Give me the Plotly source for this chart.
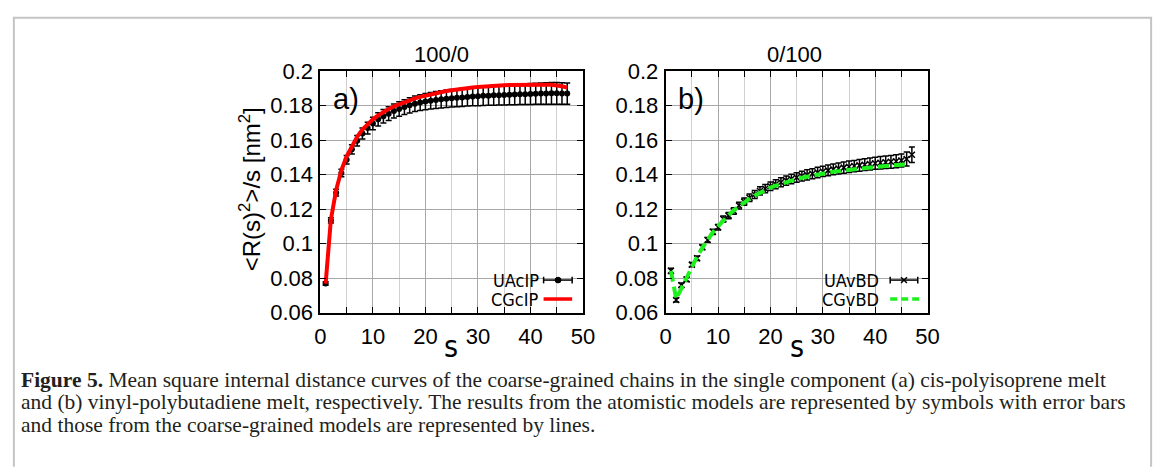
import plotly.graph_objects as go

W, H = 1170, 474

# ---------------- data ----------------
s_ua = list(range(1, 48))
ua_cip = [0.0768, 0.1134, 0.1295, 0.1409, 0.1486, 0.1546, 0.1596, 0.1638, 0.1669, 0.1696,
          0.1720, 0.1738, 0.1753, 0.1768, 0.1780, 0.1791, 0.1801, 0.1810, 0.1817, 0.1823,
          0.1828, 0.1832, 0.1836, 0.1839, 0.1842, 0.1845, 0.1847, 0.1850, 0.1852, 0.1854,
          0.1856, 0.1857, 0.1859, 0.1860, 0.1861, 0.1863, 0.1864, 0.1865, 0.1866, 0.1867,
          0.1868, 0.1869, 0.1870, 0.1871, 0.1871, 0.1870, 0.1869]
ua_cip_err = [0.0010, 0.0015, 0.0020, 0.0022, 0.0025, 0.0027, 0.0030, 0.0032, 0.0034, 0.0036,
              0.0038, 0.0039, 0.0040, 0.0041, 0.0042, 0.0043, 0.0044, 0.0045, 0.0046, 0.0047,
              0.0048, 0.0049, 0.0050, 0.0051, 0.0051, 0.0052, 0.0053, 0.0053, 0.0054, 0.0055,
              0.0056, 0.0056, 0.0057, 0.0057, 0.0058, 0.0058, 0.0059, 0.0059, 0.0060, 0.0061,
              0.0061, 0.0062, 0.0062, 0.0063, 0.0063, 0.0062, 0.0061]
s_cg_cip = list(range(1, 48))
cg_cip = [0.0768, 0.1140, 0.1310, 0.1425, 0.1505, 0.1568, 0.1618, 0.1660, 0.1693, 0.1720,
          0.1743, 0.1763, 0.1780, 0.1795, 0.1808, 0.1820, 0.1831, 0.1841, 0.1850, 0.1858,
          0.1865, 0.1872, 0.1878, 0.1884, 0.1889, 0.1894, 0.1898, 0.1902, 0.1905, 0.1908,
          0.1911, 0.1913, 0.1915, 0.1917, 0.1918, 0.1919, 0.1920, 0.1921, 0.1922, 0.1922,
          0.1922, 0.1922, 0.1921, 0.1920, 0.1917, 0.1912, 0.1904]

ua_vbd = [0.0842, 0.0673, 0.0759, 0.0792, 0.0878, 0.0915, 0.0979, 0.1021, 0.1068, 0.1094,
          0.1142, 0.1162, 0.1189, 0.1220, 0.1243, 0.1265, 0.1284, 0.1305, 0.1318, 0.1332,
          0.1344, 0.1355, 0.1365, 0.1374, 0.1383, 0.1391, 0.1398, 0.1405, 0.1412, 0.1418,
          0.1424, 0.1430, 0.1435, 0.1440, 0.1445, 0.1449, 0.1453, 0.1457, 0.1461, 0.1465,
          0.1468, 0.1471, 0.1474, 0.1477, 0.1481, 0.1490, 0.1515]
ua_vbd_err = [0.0015, 0.0012, 0.0012, 0.0012, 0.0012, 0.0013, 0.0013, 0.0014, 0.0015, 0.0016,
              0.0017, 0.0018, 0.0019, 0.0020, 0.0021, 0.0022, 0.0023, 0.0024, 0.0024, 0.0025,
              0.0026, 0.0026, 0.0027, 0.0027, 0.0028, 0.0028, 0.0029, 0.0029, 0.0030, 0.0030,
              0.0031, 0.0031, 0.0032, 0.0032, 0.0033, 0.0033, 0.0034, 0.0034, 0.0035, 0.0035,
              0.0036, 0.0036, 0.0037, 0.0037, 0.0038, 0.0040, 0.0045]
s_cg_vbd = list(range(1, 47))
cg_vbd = [0.0842, 0.0680, 0.0740, 0.0800, 0.0870, 0.0925, 0.0975, 0.1025, 0.1065, 0.1100,
          0.1135, 0.1165, 0.1192, 0.1217, 0.1240, 0.1260, 0.1278, 0.1295, 0.1310, 0.1324,
          0.1336, 0.1347, 0.1357, 0.1366, 0.1374, 0.1381, 0.1388, 0.1394, 0.1400, 0.1406,
          0.1411, 0.1416, 0.1420, 0.1424, 0.1428, 0.1432, 0.1435, 0.1438, 0.1441, 0.1444,
          0.1447, 0.1450, 0.1452, 0.1455, 0.1457, 0.1459]

y_ticks = [0.06, 0.08, 0.10, 0.12, 0.14, 0.16, 0.18, 0.20]
y_tick_labels = ["0.06", "0.08", "0.1", "0.12", "0.14", "0.16", "0.18", "0.2"]
x_ticks = [0, 10, 20, 30, 40, 50]
x_tick_labels = ["0", "10", "20", "30", "40", "50"]

panel_titles = ["100/0", "0/100"]
panel_tags = ["a)", "b)"]
legend_names = [("UAcIP", "CGcIP"), ("UAvBD", "CGvBD")]
caption_lines = [
    "<b>Figure 5.</b> Mean square internal distance curves of the coarse-grained chains in the single component (a) cis-polyisoprene melt",
    "and (b) vinyl-polybutadiene melt, respectively. The results from the atomistic models are represented by symbols with error bars",
    "and those from the coarse-grained models are represented by lines.",
]

# ---------------- helpers ----------------
def PX(px):
    return px / W

def PY(py):
    return 1 - py / H

SANS = "Liberation Sans, Arial, sans-serif"
NARROW = "Liberation Sans Narrow, Arial Narrow, DejaVu Sans Condensed, Liberation Sans, sans-serif"
SERIF = "Liberation Serif, Times New Roman, serif"
RED = "#ff0000"
GREEN = "#1ef01e"

fig = go.Figure()

# panel a
fig.add_trace(go.Scatter(
    x=s_ua, y=ua_cip, mode="markers", name=legend_names[0][0],
    marker=dict(symbol="circle", size=6, color="black"),
    error_y=dict(type="data", array=ua_cip_err, color="black", thickness=1.5, width=3),
    xaxis="x", yaxis="y", showlegend=False))
fig.add_trace(go.Scatter(
    x=s_cg_cip, y=cg_cip, mode="lines", name=legend_names[0][1],
    line=dict(color=RED, width=4), xaxis="x", yaxis="y", showlegend=False))

# panel b
fig.add_trace(go.Scatter(
    x=s_ua, y=ua_vbd, mode="markers", name=legend_names[1][0],
    marker=dict(symbol="x-thin", size=6, color="black", line=dict(color="black", width=1.5)),
    error_y=dict(type="data", array=ua_vbd_err, color="black", thickness=1.5, width=3),
    xaxis="x2", yaxis="y2", showlegend=False))
fig.add_trace(go.Scatter(
    x=s_cg_vbd, y=cg_vbd, mode="lines", name=legend_names[1][1],
    line=dict(color=GREEN, width=4, dash="11px,5px"), xaxis="x2", yaxis="y2", showlegend=False))

ydom = [PY(317.3), PY(62.3)]
xdom1 = [PX(319.3), PX(586)]
xdom2 = [PX(670), PX(936)]

def xaxis(dom, anchor):
    return dict(
        domain=dom, anchor=anchor, range=[0, 50],
        tickmode="array", tickvals=x_ticks, ticktext=x_tick_labels,
        ticks="inside", ticklen=6, tickwidth=1.3, tickcolor="black",
        showline=True, linecolor="black", linewidth=2, mirror="ticks",
        showgrid=True, gridcolor="#a8a8a8", gridwidth=1,
        minor=dict(dtick=5, tick0=0, showgrid=True, gridcolor="#d0d0d0", gridwidth=1.4,
                   ticks="inside", ticklen=6, tickwidth=1.3, tickcolor="black"),
        zeroline=False, ticklabelstandoff=3,
        tickfont=dict(family=SANS, size=22, color="black"))

def yaxis(anchor):
    return dict(
        domain=ydom, anchor=anchor, range=[0.06, 0.2],
        tickmode="array", tickvals=y_ticks, ticktext=y_tick_labels,
        ticks="inside", ticklen=6, tickwidth=1.3, tickcolor="black",
        showline=True, linecolor="black", linewidth=2, mirror="ticks",
        showgrid=True, gridcolor="#a8a8a8", gridwidth=1,
        zeroline=False, ticklabelstandoff=1,
        tickfont=dict(family=SANS, size=22, color="black"))

fig.update_layout(
    width=W, height=H, margin=dict(l=0, r=0, t=0, b=0),
    paper_bgcolor="white", plot_bgcolor="white",
    xaxis=xaxis(xdom1, "y"), yaxis=yaxis("x"),
    xaxis2=xaxis(xdom2, "y2"), yaxis2=yaxis("x2"),
    showlegend=False,
)

ann = []
for cx, t in zip([442, 801], panel_titles):
    ann.append(dict(x=PX(cx), y=PY(45), xref="paper", yref="paper", text=t, showarrow=False,
                    xanchor="center", yanchor="middle", font=dict(family=SANS, size=22, color="black")))
for lx, t in zip([330, 680], panel_tags):
    ann.append(dict(x=PX(lx), y=PY(92), xref="paper", yref="paper", text=t, showarrow=False,
                    xanchor="left", yanchor="middle", font=dict(family=SANS, size=29, color="black")))
for cx in [452, 803]:
    ann.append(dict(x=PX(cx), y=PY(353), xref="paper", yref="paper", text="s", showarrow=False,
                    xanchor="center", yanchor="middle", font=dict(family=NARROW, size=30, color="black")))
ann.append(dict(x=PX(248), y=PY(187), xref="paper", yref="paper",
                text="&lt;R(s)<sup>2</sup>&gt;/s [nm<sup>2</sup>]", showarrow=False, textangle=-90,
                xanchor="center", yanchor="middle", font=dict(family=SANS, size=24, color="black")))
for rx, names in zip([542, 888], legend_names):
    for py, nm in zip([283, 303], names):
        ann.append(dict(x=PX(rx), y=PY(py), xref="paper", yref="paper", text=nm, showarrow=False,
                        xanchor="right", yanchor="middle", height=19, borderpad=0,
                        font=dict(family=NARROW, size=18, color="black")))
for py, line in zip([388, 412, 436], caption_lines):
    ann.append(dict(x=PX(14), y=PY(py), xref="paper", yref="paper", text=line, showarrow=False,
                    xanchor="left", yanchor="middle", height=24, borderpad=0,
                    font=dict(family=SERIF, size=21.5, color="#231f20")))
fig.update_layout(annotations=ann)

shapes = []
shapes.append(dict(type="path", xref="paper", yref="paper",
                   path=f"M {PX(8)} {PY(480)} L {PX(8)} {PY(6)} L {PX(1163)} {PY(6)} L {PX(1163)} {PY(480)}",
                   line=dict(color="#c4c4c4", width=2)))

def hline(x0, x1, py, color, width, dash="solid"):
    return dict(type="line", xref="paper", yref="paper", x0=PX(x0), x1=PX(x1), y0=PY(py), y1=PY(py),
                line=dict(color=color, width=width, dash=dash))

def vline(px, y0, y1, color, width):
    return dict(type="line", xref="paper", yref="paper", x0=PX(px), x1=PX(px), y0=PY(y0), y1=PY(y1),
                line=dict(color=color, width=width))

for (x0, x1) in [(546, 575), (898, 926)]:
    shapes.append(hline(x0, x1, 283, "black", 1.5))
    shapes.append(vline(x0, 279.5, 286.5, "black", 1.5))
    shapes.append(vline(x1, 279.5, 286.5, "black", 1.5))
shapes.append(dict(type="circle", xref="paper", yref="paper", x0=PX(557.7), x1=PX(563.7),
                   y0=PY(286), y1=PY(280), fillcolor="black", line=dict(color="black", width=1)))
for (dx0, dy0, dx1, dy1) in [(-3, -3, 3, 3), (-3, 3, 3, -3)]:
    shapes.append(dict(type="line", xref="paper", yref="paper", x0=PX(912 + dx0), x1=PX(912 + dx1),
                       y0=PY(283 + dy0), y1=PY(283 + dy1), line=dict(color="black", width=1.5)))
shapes.append(hline(546, 575, 303, RED, 3.5))
shapes.append(hline(898, 928, 303, GREEN, 3.5, dash="7px,4px"))
fig.update_layout(shapes=shapes)

fig.write_html("out.html",
               post_script="document.body.style.margin='0';document.body.style.padding='0';"
                           "document.documentElement.style.overflow='hidden';")
